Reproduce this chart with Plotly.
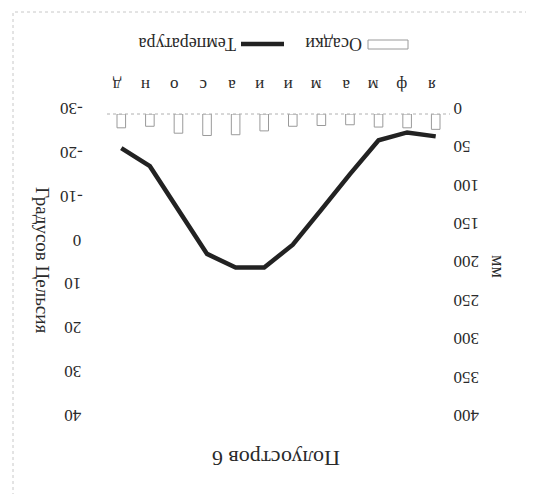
import plotly.graph_objects as go

months = ["я", "ф", "м", "а", "м", "и", "и", "а", "с", "о", "н", "д"]
precip_mm = [20, 18, 17, 14, 15, 16, 22, 27, 28, 25, 16, 18]
temp_c = [-24.9, -25.8, -24.0, -16.3, -8.2, -0.2, 5.0, 5.0, 1.9, -8.2, -18.1, -22.2]
temp_ticks = [-30, -20, -10, 0, 10, 20, 30, 40]
temp_ticktext = ["-30", "-20", "-10", "0\u2007\u2008", "10\u2008", "20\u2008", "30\u2008", "40\u2008"]
mm_ticks = [0, 50, 100, 150, 200, 250, 300, 350, 400]
mm_ticktext = ["\u2007\u20070", "\u200750", "100", "150", "200", "250", "300", "350", "400"]

title_text = "Полуостров 6"
temp_title = "Градусов Цельсия"
mm_title = "мм"
legend_precip = "Осадки"
legend_temp = "Температура"

SERIF = "Liberation Serif, Times New Roman, serif"
TXT = "#2a2a2a"

L, R, T, B = 99, 442, 106, 413

fig = go.Figure()
fig.add_trace(go.Bar(
    x=list(range(12)), y=precip_mm, yaxis="y2", width=0.3,
    marker=dict(color="white", line=dict(color="#9a9a9a", width=1)),
    showlegend=False, name=legend_precip))
fig.add_trace(go.Scatter(
    x=list(range(12)), y=temp_c, yaxis="y", mode="lines",
    line=dict(color="#222222", width=4.5), showlegend=False, name=legend_temp))

fig.update_layout(
    width=534, height=494,
    margin=dict(l=L, r=534 - R, t=T, b=494 - B, pad=0),
    paper_bgcolor="white", plot_bgcolor="white",
    font=dict(family=SERIF, color=TXT, size=17),
    xaxis=dict(
        tickmode="array", tickvals=list(range(12)), ticktext=months,
        range=[11.5, -0.5], side="top", tickangle=180,
        showgrid=False, zeroline=False, showline=False,
        ticks="", ticklabelstandoff=13,
        tickfont=dict(family=SERIF, size=17, color=TXT)),
    yaxis=dict(
        range=[40, -30], tickmode="array", tickvals=temp_ticks, ticktext=temp_ticktext,
        tickangle=180,
        showgrid=False, zeroline=False, showline=False, ticks="",
        ticklabelstandoff=46,
        tickfont=dict(family=SERIF, size=17, color=TXT)),
    yaxis2=dict(
        range=[400, 0], tickmode="array", tickvals=mm_ticks, ticktext=mm_ticktext,
        tickangle=180,
        overlaying="y", side="right",
        showgrid=False, zeroline=False, showline=False, ticks="",
        ticklabelstandoff=28,
        tickfont=dict(family=SERIF, size=17, color=TXT)),
)

def px_x(px):
    return (px - L) / float(R - L)

def px_y(py):
    return (B - py) / float(B - T)

ann = [
    dict(text=title_text, x=px_x(268), y=px_y(451), textangle=180, font=dict(size=22)),
    dict(text=temp_title, x=px_x(35), y=px_y(252), textangle=90, font=dict(size=19)),
    dict(text=mm_title, x=px_x(490), y=px_y(258), textangle=90, font=dict(size=18)),
    dict(text=legend_precip, x=px_x(326), y=px_y(36), textangle=180, font=dict(size=18)),
    dict(text=legend_temp, x=px_x(180), y=px_y(36), textangle=180, font=dict(size=18)),
]
for a in ann:
    a.update(xref="paper", yref="paper", showarrow=False, xanchor="center", yanchor="middle")
fig.update_layout(annotations=ann)

shapes = [
    dict(type="rect", xref="paper", yref="paper", x0=px_x(360), x1=px_x(400),
         y0=px_y(41), y1=px_y(32), line=dict(color="#9a9a9a", width=1), fillcolor="white"),
    dict(type="line", xref="paper", yref="paper", x0=px_x(233), x1=px_x(276),
         y0=px_y(36), y1=px_y(36), line=dict(color="#222222", width=4.5)),
    dict(type="line", xref="paper", yref="paper", x0=0, x1=1, y0=1, y1=1,
         line=dict(color="#b0b0b0", width=1, dash="dot")),
    dict(type="rect", xref="paper", yref="paper", x0=px_x(5), x1=px_x(528),
         y0=px_y(487), y1=px_y(4), line=dict(color="#c8c8c8", width=1, dash="dot")),
]
fig.update_layout(shapes=shapes)

fig.write_html("out.html")
